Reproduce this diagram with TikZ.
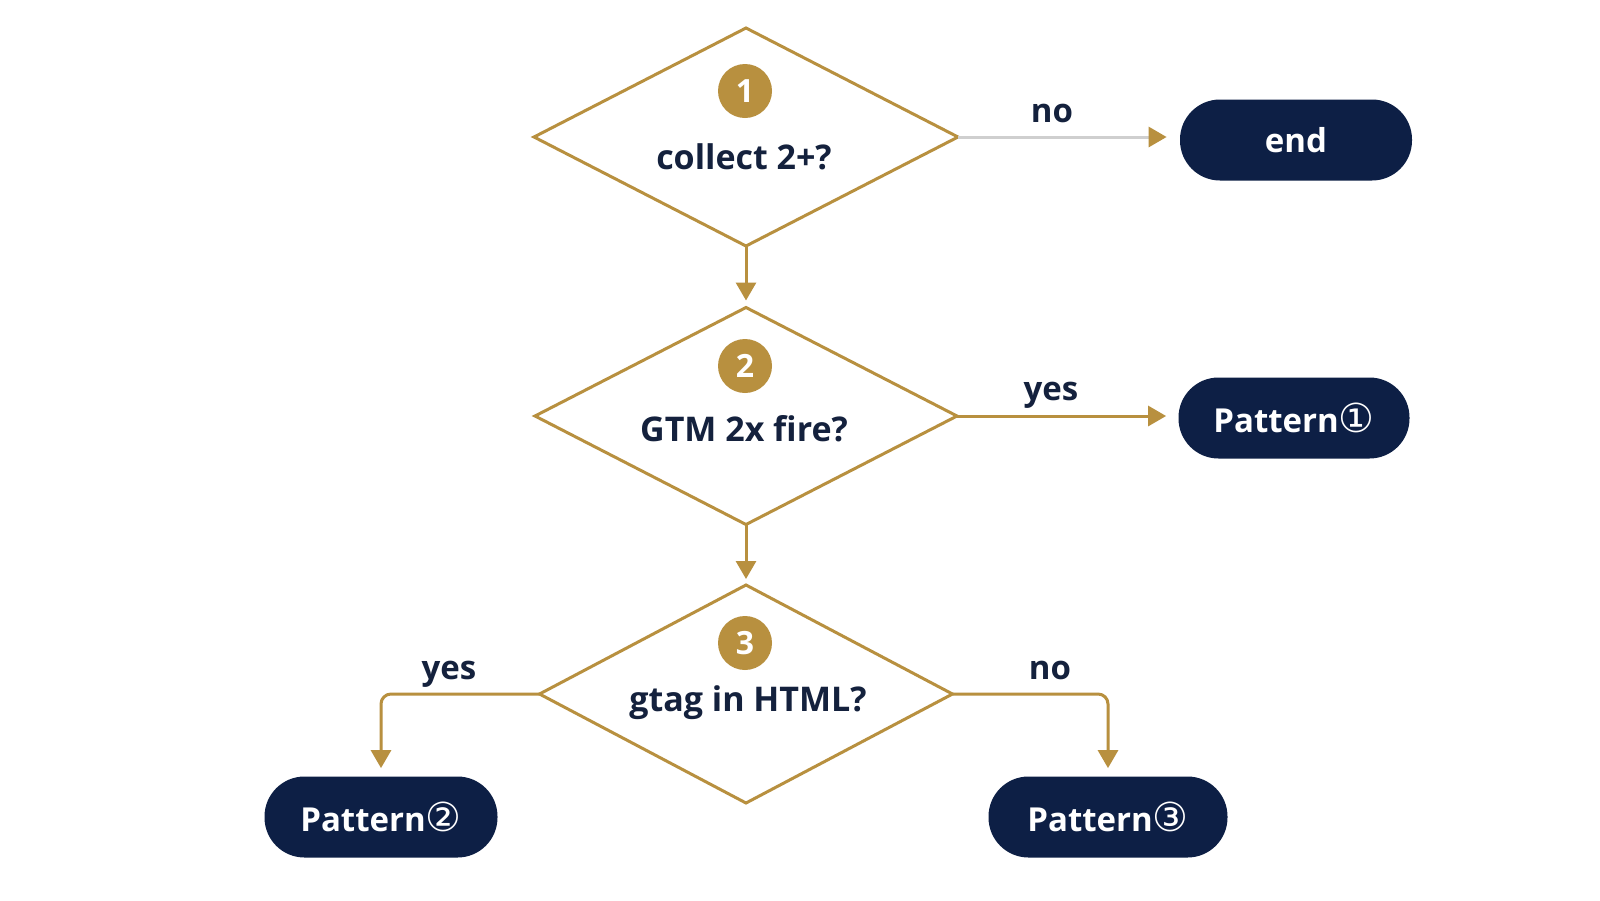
\documentclass[tikz,border=0pt]{standalone}
\usepackage{fontspec}
\setmainfont{Open Sans}
\newfontfamily\symf{DejaVu Sans}
\usetikzlibrary{arrows.meta,shapes.geometric}
\definecolor{gold}{HTML}{B8903F}
\definecolor{navy}{HTML}{0D1F45}
\definecolor{ink}{HTML}{14213D}
\definecolor{lgray}{HTML}{CFCFCF}
\newcommand{\circd}[1]{{\symf\mdseries\fontsize{20pt}{20pt}\selectfont #1}}
\tikzset{
  dec/.style={draw=gold,line width=1.5pt,shape=diamond,inner sep=0pt,outer sep=0pt},
  badge/.style={circle,fill=gold,minimum size=27pt,inner sep=0pt,text=white,font=\bfseries\fontsize{16pt}{18pt}\selectfont},
  qtext/.style={text=ink,font=\bfseries\fontsize{17pt}{20pt}\selectfont,inner sep=0pt},
  term/.style={fill=navy,rounded corners=20pt,minimum height=40.5pt,inner sep=0pt,text=white,font=\bfseries\fontsize{16.5pt}{20pt}\selectfont},
  lbl/.style={text=ink,font=\bfseries\fontsize{16.5pt}{20pt}\selectfont,inner sep=0pt},
  garrow/.style={draw=gold,line width=1.5pt,-{Triangle[width=10pt,length=9pt]}},
}
\begin{document}
\begin{tikzpicture}[x=0.5pt,y=-0.5pt]
\useasboundingbox[fill=white] (0,0) rectangle (1600,900);
% decisions
\node[dec,minimum width=212pt,minimum height=109pt] (d1) at (746,137) {};
\node[dec,minimum width=211pt,minimum height=108.5pt] (d2) at (746,416) {};
\node[dec,minimum width=206.5pt,minimum height=109pt] (d3) at (746,694) {};
\node[badge] (b1) at (745,91) {1};
\node[badge] (b2) at (745,366) {2};
\node[badge] (b3) at (745,643) {3};
\node[qtext] (t1) at (744,157) {collect 2+?};
\node[qtext] (t2) at (744,429) {GTM 2x fire?};
\node[qtext] (t3) at (748,703) {gtag in HTML?};
% terminals
\node[term,minimum width=116pt] (end) at (1296,140) {end};
\node[term,minimum width=115.5pt] (p1) at (1294,418) {Pattern\circd{①}};
\node[term,minimum width=116.5pt] (p2) at (381,817) {Pattern\circd{②}};
\node[term,minimum width=119.5pt] (p3) at (1108,817) {Pattern\circd{③}};
% connectors
\draw[draw=lgray,line width=1.5pt,-{Triangle[width=10pt,length=9pt,color=gold]},shorten >=6.5pt] (d1.east) -- (d1.east -| end.west);
\draw[garrow,shorten >=6pt] (d2.east) -- (d2.east -| p1.west);
\draw[garrow,shorten >=3.5pt] (d1.south) -- (d2.north);
\draw[garrow,shorten >=3pt] (d2.south) -- (d3.north);
\draw[garrow,rounded corners=5pt,shorten >=4pt] (d3.west) -| (p2.north);
\draw[garrow,rounded corners=5pt,shorten >=4pt] (d3.east) -| (p3.north);
% labels
\node[lbl] (l1) at (1052,113) {no};
\node[lbl] (l2) at (1051,395) {yes};
\node[lbl] (l3) at (449,674) {yes};
\node[lbl] (l4) at (1050,670) {no};
\end{tikzpicture}
\end{document}
